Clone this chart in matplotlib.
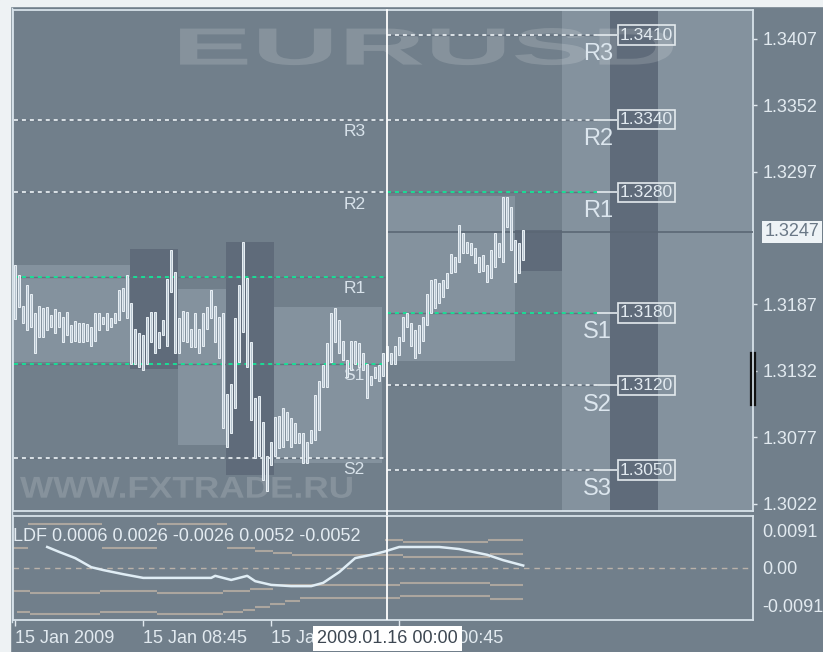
import matplotlib
matplotlib.use("Agg")
import matplotlib.pyplot as plt
from matplotlib.patches import Rectangle, PathPatch
from matplotlib.textpath import TextPath
from matplotlib.font_manager import FontProperties
from matplotlib.transforms import Affine2D, blended_transform_factory
from matplotlib.lines import Line2D

plt.rcParams['font.family'] = ['Liberation Sans', 'DejaVu Sans']

# EURUSD M15 bars, index 0 = 15 Jan 00:45, index 93 = 16 Jan 00:00
highs = [1.3220, 1.3211, 1.3186, 1.3203, 1.3196, 1.3180, 1.3186, 1.3184, 1.3185, 1.3178,
         1.3183, 1.3181, 1.3177, 1.3181, 1.3170, 1.3173, 1.3172, 1.3172, 1.3171, 1.3168,
         1.3180, 1.3180, 1.3177, 1.3180, 1.3176, 1.3180, 1.3199, 1.3201, 1.3211, 1.3188,
         1.3167, 1.3163, 1.3162, 1.3177, 1.3181, 1.3181, 1.3164, 1.3174, 1.3208, 1.3232,
         1.3214, 1.3176, 1.3182, 1.3181, 1.3167, 1.3180, 1.3167, 1.3180, 1.3185, 1.3199,
         1.3186, 1.3177, 1.3180, 1.3113, 1.3121, 1.3176, 1.3203, 1.3239, 1.3209, 1.3156,
         1.3110, 1.3111, 1.3090, 1.3062, 1.3073, 1.3094, 1.3095, 1.3101, 1.3098, 1.3093,
         1.3089, 1.3081, 1.3081, 1.3073, 1.3083, 1.3112, 1.3124, 1.3137, 1.3155, 1.3180,
         1.3184, 1.3174, 1.3157, 1.3141, 1.3157, 1.3157, 1.3155, 1.3147, 1.3138, 1.3128,
         1.3135, 1.3137, 1.3147, 1.3153, 1.3147, 1.3153, 1.3160, 1.3177, 1.3180, 1.3172,
         1.3166, 1.3170, 1.3177, 1.3196, 1.3207, 1.3208, 1.3205, 1.3207, 1.3213, 1.3229,
         1.3226, 1.3253, 1.3246, 1.3239, 1.3238, 1.3234, 1.3226, 1.3228, 1.3220, 1.3232,
         1.3246, 1.3238, 1.3276, 1.3276, 1.3268, 1.3240, 1.3238, 1.3249]
lows = [1.3175, 1.3185, 1.3172, 1.3166, 1.3168, 1.3147, 1.3160, 1.3160, 1.3166, 1.3168,
        1.3163, 1.3168, 1.3156, 1.3162, 1.3156, 1.3157, 1.3156, 1.3156, 1.3157, 1.3153,
        1.3157, 1.3166, 1.3171, 1.3166, 1.3168, 1.3172, 1.3174, 1.3182, 1.3176, 1.3138,
        1.3138, 1.3135, 1.3133, 1.3138, 1.3156, 1.3147, 1.3151, 1.3162, 1.3153, 1.3197,
        1.3147, 1.3147, 1.3157, 1.3156, 1.3152, 1.3152, 1.3147, 1.3153, 1.3167, 1.3176,
        1.3156, 1.3143, 1.3085, 1.3069, 1.3081, 1.3101, 1.3139, 1.3164, 1.3135, 1.3091,
        1.3060, 1.3062, 1.3042, 1.3033, 1.3054, 1.3062, 1.3068, 1.3069, 1.3075, 1.3069,
        1.3072, 1.3072, 1.3056, 1.3056, 1.3072, 1.3075, 1.3083, 1.3119, 1.3119, 1.3139,
        1.3156, 1.3147, 1.3141, 1.3127, 1.3133, 1.3138, 1.3135, 1.3133, 1.3110, 1.3120,
        1.3126, 1.3124, 1.3128, 1.3140, 1.3138, 1.3138, 1.3145, 1.3157, 1.3168, 1.3153,
        1.3143, 1.3147, 1.3157, 1.3170, 1.3180, 1.3184, 1.3188, 1.3193, 1.3201, 1.3213,
        1.3214, 1.3222, 1.3230, 1.3230, 1.3228, 1.3221, 1.3214, 1.3215, 1.3206, 1.3209,
        1.3218, 1.3226, 1.3222, 1.3251, 1.3232, 1.3206, 1.3213, 1.3224]

# trading session boxes (bar index range, high, low)
sess_start = [-0.3, 28.7, 40.7, 52.7, 64.7, 93.2, 124.9]
sess_end = [28.7, 40.7, 52.7, 64.7, 91.7, 124.9, 136.7]
sess_high = [1.3220, 1.3233, 1.3200, 1.3239, 1.3185, 1.3277, 1.3249]
sess_low = [1.3139, 1.3134, 1.3071, 1.3046, 1.3056, 1.3140, 1.3215]
sess_dark = [False, True, False, True, False, False, True]
future_start = [136.7, 148.7, 160.7]
future_end = [148.7, 160.7, 185.0]
future_dark = [False, True, False]

# pivot levels: previous day (15 Jan) and current day (16 Jan)
prev_names = ['R3', 'R2', 'R1', 'S1', 'S2']
prev_levels = [1.3340, 1.3280, 1.3210, 1.3138, 1.3060]
prev_green = [False, False, True, True, False]
cur_names = ['R3', 'R2', 'R1', 'S1', 'S2', 'S3']
cur_levels = [1.3410, 1.3340, 1.3280, 1.3180, 1.3120, 1.3050]
cur_green = [False, False, True, True, False, False]

last_price = 1.3247
spread_mark = [1.3147, 1.3104]
price_ticks = [1.3407, 1.3352, 1.3297, 1.3187, 1.3132, 1.3077, 1.3022]

time_ticks = [0, 32, 64, 96]
time_labels = ['15 Jan 2009', '15 Jan 08:45', '15 Jan 16:45', '16 Jan 00:45']
cursor_bar = 93
cursor_label = '2009.01.16 00:00'

# LDF indicator
ldf_bars = [8, 11, 15, 19, 22, 27, 32, 49, 50, 54, 58, 60, 64, 69, 74, 77, 81, 85, 89, 92,
            96, 106, 111, 118, 122, 127]
ldf_vals = [0.0051, 0.0039, 0.0024, 0.0002, -0.0005, -0.0015, -0.0024, -0.0024, -0.0019,
            -0.0029, -0.0019, -0.0032, -0.0041, -0.0044, -0.0044, -0.0036, -0.0010, 0.0024,
            0.0032, 0.0039, 0.0051, 0.0051, 0.0046, 0.0032, 0.0019, 0.0006]
ldf_title = 'LDF 0.0006 0.0026 -0.0026 0.0052 -0.0052'
# band lines as step segments (start bar, end bar, value)
up_in_s = [-0.55, 3.2, 21.7, 35.45, 53.0, 60.0, 64.5, 69.2, 96.95, 118.7]
up_in_e = [3.2, 21.7, 35.45, 53.0, 60.0, 64.5, 69.2, 96.95, 118.7, 126.95]
up_in_v = [0.00485, 0.01068, 0.00485, 0.01068, 0.00485, 0.00413, 0.00364, 0.00316, 0.00267, 0.00340]
up_out_s = [92.45, 96.95, 118.2]
up_out_e = [96.95, 118.2, 126.95]
up_out_v = [0.00680, 0.00631, 0.00680]
dn_in_s = [-0.55, 3.7, 21.2, 35.45, 51.95, 58.7, 64.45, 96.2, 118.7]
dn_in_e = [3.7, 21.2, 35.45, 51.95, 58.7, 64.45, 96.2, 118.7, 126.95]
dn_in_v = [-0.00558, -0.00607, -0.00558, -0.00607, -0.00558, -0.00510, -0.00413, -0.00364, -0.00413]
dn_out_s = [0.45, 3.7, 21.2, 35.45, 51.95, 56.95, 60.0, 63.7, 67.45, 71.2, 96.2, 118.7]
dn_out_e = [3.7, 21.2, 35.45, 51.95, 56.95, 60.0, 63.7, 67.45, 71.2, 96.2, 118.7, 126.95]
dn_out_v = [-0.01068, -0.01117, -0.01068, -0.01117, -0.01068, -0.01019, -0.00947, -0.00874,
            -0.00801, -0.00728, -0.00680, -0.00752]

BG = '#717f8b'
LIGHT = '#84929e'
DARK = '#5f6b7a'
TXT = '#e2eaf0'
GREEN = '#14e698'
WHITE = '#e4eaee'
BAND = '#aca69f'

fig = plt.figure(figsize=(8.23, 6.52), dpi=100, facecolor=BG)
ax = fig.add_axes([13 / 823, 1 - 511 / 652, 740 / 823, 501 / 652], facecolor=BG)
ax2 = fig.add_axes([13 / 823, 1 - 620 / 652, 740 / 823, 104 / 652], facecolor=BG, sharex=ax)

# white window margins
fig.patches.append(Rectangle((0, 0), 10 / 823, 1, transform=fig.transFigure, color='#eef2f4', zorder=0))
fig.patches.append(Rectangle((0, 1 - 6 / 652), 1, 6 / 652, transform=fig.transFigure, color='#eef2f4', zorder=0))
fig.add_artist(Line2D([11.5 / 823] * 2, [1 - 622 / 652, 1 - 8 / 652], color='#d7e2ea', lw=1))

# session boxes
for x0, x1, c in zip(future_start, future_end, future_dark):
    ax.axvspan(x0, x1, color=DARK if c else LIGHT, lw=0, zorder=0.5)
for x0, x1, hi, lo, c in zip(sess_start, sess_end, sess_high, sess_low, sess_dark):
    ax.add_patch(Rectangle((x0, lo), x1 - x0, hi - lo, color=DARK if c else LIGHT, lw=0, zorder=1))


def stretched_text(s, x0, y0, x1, y1):
    tp = TextPath((0, 0), s, size=1, prop=FontProperties(family='Liberation Sans', weight='bold'))
    ext = tp.get_extents()
    tr = (Affine2D().translate(-ext.x0, -ext.y0)
          .scale((x1 - x0) / ext.width, (y1 - y0) / ext.height).translate(x0, y0))
    ax.add_patch(PathPatch(tr.transform_path(tp), transform=ax.transAxes,
                           fc='white', alpha=0.15, ec='none', zorder=1.5))


stretched_text('EURUSD', 0.2257, 0.890, 0.8919, 0.964)
stretched_text('WWW.FXTRADE.RU', 0.0095, 0.026, 0.458, 0.068)

# pivot lines
for name, lv, g in zip(prev_names, prev_levels, prev_green):
    ax.hlines(lv, -0.3, 92.45, color='#65717e', lw=1, zorder=2)
    ax.hlines(lv, -0.3, 92.45, color=GREEN if g else WHITE, lw=1.3,
              linestyles=(0, (2.2, 2.2)), zorder=2.2)
    ax.annotate(name, (82, lv), xytext=(0, -3.2), textcoords='offset points',
                ha='left', va='top', fontsize=12.5, color='#d8e2ea', zorder=2.3)
for name, lv, g in zip(cur_names, cur_levels, cur_green):
    ax.hlines(lv, 93, 145.45, color='#65717e', lw=1, zorder=2)
    ax.hlines(lv, 93, 145.45, color=GREEN if g else WHITE, lw=1.3,
              linestyles=(0, (2.2, 2.2)), zorder=2.2)
    ax.hlines(lv, 145.45, 150.45, color=WHITE, lw=1.2, zorder=2.2)
    ax.annotate(name, (142, lv), xytext=(0, -5.8), textcoords='offset points',
                ha='left', va='top', fontsize=17, color='#dce6ee', zorder=2.3)
    ax.text(157.8, lv, f'{lv:.4f}', ha='center', va='center', fontsize=12.5, color=TXT, zorder=3,
            bbox=dict(boxstyle='square,pad=0.12', fc='none', ec=WHITE, lw=1.2))

# bars
idx = list(range(len(highs)))
ax.bar(idx, [h - l for h, l in zip(highs, lows)], bottom=lows, width=0.5,
       color='#b5c3ce', edgecolor='#e9f0f5', lw=0.7, zorder=5)

# last price line and label
ax.hlines(last_price, 93, 184.45, color='#5b6774', lw=1.2, zorder=4)
btr = blended_transform_factory(ax.transAxes, ax.transData)
ax.text(1 + 12 / 740, last_price, f'{last_price:.4f}', transform=btr, ha='left', va='center',
        fontsize=13, color='#6a7886', zorder=10, clip_on=False,
        bbox=dict(boxstyle='square,pad=0.15', fc='#eef3f6', ec='none'))
ax.plot([1 - 2 / 740, 1 - 2 / 740], spread_mark, transform=btr, color='#111111', lw=1.6,
        clip_on=False, zorder=10)
ax.plot([1 + 2 / 740, 1 + 2 / 740], spread_mark, transform=btr, color='#111111', lw=1.6,
        clip_on=False, zorder=10)

# cursor line
ax.axvline(cursor_bar, ymin=-0.012, ymax=1, color='white', lw=1.3, zorder=6, clip_on=False)
ax2.axvline(cursor_bar, color='white', lw=1.3, zorder=6)

ax.set_xlim(-0.55, 184.45)
ax.set_ylim(1.30161, 1.34307)
ax.yaxis.tick_right()
ax.set_yticks(price_ticks)
ax.set_yticklabels([f'{p:.4f}' for p in price_ticks])
ax.tick_params(axis='y', colors=TXT, labelsize=13, length=3, pad=4, width=1)
ax.tick_params(axis='x', bottom=False, labelbottom=False)
for sp in ax.spines.values():
    sp.set_color('#d7e2ea')
    sp.set_linewidth(1.3)

# lower indicator panel
ax2.set_ylim(-0.01262, 0.01262)
ax2.axhline(0, color='#b9b1a9', lw=1, linestyle=(0, (4, 3.5)), zorder=1)
ax2.hlines(up_out_v, up_out_s, up_out_e, color=BAND, lw=1.5, zorder=2)
ax2.hlines(up_in_v, up_in_s, up_in_e, color=BAND, lw=1.5, zorder=2)
ax2.hlines(dn_in_v, dn_in_s, dn_in_e, color=BAND, lw=1.5, zorder=2)
ax2.hlines(dn_out_v, dn_out_s, dn_out_e, color=BAND, lw=1.5, zorder=2)
ax2.plot(ldf_bars, ldf_vals, color='#e0edf5', lw=1.8, zorder=3)
ax2.text(0.0, 0.80, ldf_title, transform=ax2.transAxes, ha='left', va='center',
         fontsize=13, color='#e4ecf2', zorder=4)
ax2.yaxis.tick_right()
ax2.set_yticks([0.0091, 0.0, -0.0091])
ax2.set_yticklabels(['0.0091', '0.00', '-0.0091'])
ax2.tick_params(axis='y', colors=TXT, labelsize=13, length=0, pad=7)
ax2.set_xticks(time_ticks)
ax2.set_xticklabels(time_labels)
ax2.tick_params(axis='x', colors=TXT, labelsize=13, length=4.5, pad=3, width=1)
for lab in ax2.get_xticklabels():
    lab.set_horizontalalignment('left')
for sp in ax2.spines.values():
    sp.set_color('#d7e2ea')
    sp.set_linewidth(1.3)

# cursor time label drawn over the time axis, as in the terminal
btr2 = blended_transform_factory(ax2.transData, ax2.transAxes)
ax2.text(cursor_bar, -0.18, cursor_label, transform=btr2, ha='center', va='center',
         fontsize=13, color='#3d4752', zorder=10, clip_on=False,
         bbox=dict(boxstyle='square,pad=0.22', fc='white', ec='none'))

fig.savefig('out.png', dpi=100, facecolor=BG)
